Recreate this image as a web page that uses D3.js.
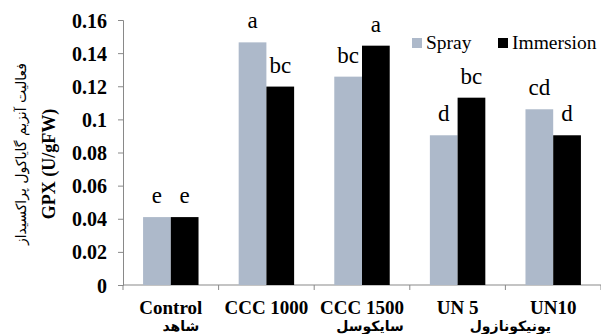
<!DOCTYPE html>
<html><head><meta charset="utf-8">
<script src="https://cdn.jsdelivr.net/npm/d3@7"></script>
<style>body{margin:0;background:#fff}svg{display:block}
svg text.sf{font-family:"Liberation Serif",serif}
</style>
</head><body><svg id="c" width="601" height="334"></svg>
<script>
const categories = ["Control","CCC 1000","CCC 1500","UN 5","UN10"];
const sprayValues = [0.041,0.1465,0.1258,0.0904,0.1061];
const immersionValues = [0.041,0.1198,0.1445,0.1131,0.0904];
const sprayLetters = ["e","a","bc","d","cd"];
const immersionLetters = ["e","bc","a","bc","d"];
const yTicks = [0,0.02,0.04,0.06,0.08,0.1,0.12,0.14,0.16];
const seriesNames = ["Spray","Immersion"];
const persianGroups = [{text:"شاهد",cat:0,dx:10},{text:"سایکوسل",cat:2,dx:8},{text:"یونیکونازول",cat:3.5,dx:5}];
const yTitleFa = "فعالیت آنزیم گایاکول پراکسیداز";
const yTitleEn = "GPX (U/gFW)";

const svg = d3.select("#c");
const L=123,R=601,T=20,B=285;
const x = d3.scaleBand().domain(categories).range([L,R]).paddingInner(0.42).paddingOuter(0.21);
const bw = x.bandwidth();
const y = d3.scaleLinear().domain([0,0.16]).range([B,T]);
const colors = ["#adb9ca","#000000"];
const axisColor = "#898989";

// axes
const yAxis = svg.append("g").attr("transform",`translate(${L},0)`)
  .call(d3.axisLeft(y).tickValues(yTicks).tickSize(5).tickFormat(d=>String(+d.toFixed(2))));
yAxis.attr("font-family",null).attr("font-size",null);
yAxis.select(".domain").attr("stroke",axisColor);
yAxis.selectAll(".tick line").attr("stroke",axisColor);
yAxis.selectAll(".tick text").attr("class","sf").attr("x",-16).style("font-weight","bold")
  .style("font-size","20px").attr("fill","#000").attr("dy","0.35em");

svg.append("line").attr("x1",L).attr("x2",R).attr("y1",B).attr("y2",B).attr("stroke",axisColor);
const step = x.step();
const bounds = d3.range(categories.length+1).map(i=>L+i*(R-L)/categories.length);
svg.selectAll(".xt").data(bounds).join("line").attr("x1",d=>d).attr("x2",d=>d)
  .attr("y1",B).attr("y2",B+5).attr("stroke",axisColor);

// bars
const series = [sprayValues, immersionValues];
const letters = [sprayLetters, immersionLetters];
series.forEach((vals,s)=>{
  svg.selectAll(".b"+s).data(vals).join("rect")
    .attr("x",(d,i)=>x(categories[i])+s*bw/2)
    .attr("width",bw/2).attr("y",d=>y(d)).attr("height",d=>B-y(d)).attr("fill",colors[s]);
  svg.selectAll(".l"+s).data(vals).join("text").attr("class","sf")
    .attr("x",(d,i)=>x(categories[i])+s*bw/2+bw/4).attr("y",d=>y(d)-14)
    .attr("text-anchor","middle").style("font-size","23px")
    .text((d,i)=>letters[s][i]);
});

// x labels
svg.selectAll(".xl").data(categories).join("text").attr("class","sf")
  .attr("x",d=>x(d)+bw/2).attr("y",314).attr("text-anchor","middle")
  .style("font-weight","bold").style("font-size","19px").text(d=>d);
svg.selectAll(".pl").data(persianGroups).join("text")
  .attr("x",d=>x(categories[Math.floor(d.cat)])+bw/2+(d.cat%1)*step+d.dx).attr("y",331)
  .attr("text-anchor","middle").style("font-family","DejaVu Sans").style("font-weight","bold")
  .style("font-size","14px").attr("direction","rtl").text(d=>d.text);

// y title
svg.append("text").attr("transform","translate(26,154) rotate(-90)").attr("text-anchor","middle")
  .style("font-family","DejaVu Sans").style("font-size","14px").attr("direction","rtl").text(yTitleFa);
svg.append("text").attr("class","sf").attr("transform","translate(55,164) rotate(-90)").attr("text-anchor","middle")
  .style("font-weight","bold").style("font-size","18px").text(yTitleEn);

// legend
const leg = [{x:412},{x:498}];
seriesNames.forEach((n,i)=>{
  svg.append("rect").attr("x",leg[i].x).attr("y",38).attr("width",10).attr("height",10).attr("fill",colors[i]);
  svg.append("text").attr("class","sf").attr("x",leg[i].x+14).attr("y",49).style("font-size","19.5px").text(n);
});
</script></body></html>
